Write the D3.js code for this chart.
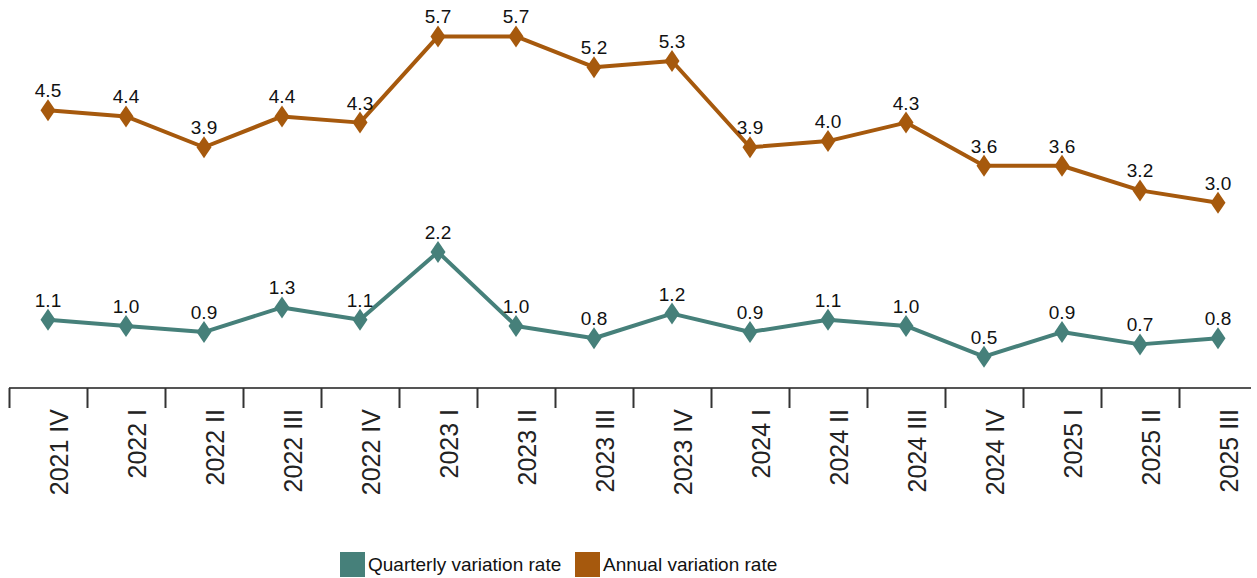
<!DOCTYPE html>
<html><head><meta charset="utf-8">
<script src="https://cdn.jsdelivr.net/npm/d3@7"></script>
<style>body{margin:0;background:#fff}svg{display:block}text{font-family:Arial,"Liberation Sans",sans-serif}</style>
</head><body>
<svg id="c" width="1257" height="578"></svg>
<script>
const categories = ["2021 IV","2022 I","2022 II","2022 III","2022 IV","2023 I","2023 II","2023 III","2023 IV","2024 I","2024 II","2024 III","2024 IV","2025 I","2025 II","2025 III"];
const quarterly = [1.1,1.0,0.9,1.3,1.1,2.2,1.0,0.8,1.2,0.9,1.1,1.0,0.5,0.9,0.7,0.8];
const annual = [4.5,4.4,3.9,4.4,4.3,5.7,5.7,5.2,5.3,3.9,4.0,4.3,3.6,3.6,3.2,3.0];
const seriesNames = ["Quarterly variation rate","Annual variation rate"];
const colors = ["#46807A","#A6590D"];

const svg = d3.select("#c");
const x = d3.scaleBand().domain(categories).range([9,1257]).padding(0);
const y = d3.scaleLinear().domain([0,6]).range([387.5,17.9]);

// axis
svg.append("line").attr("x1",9).attr("x2",1251).attr("y1",388).attr("y2",388)
  .attr("stroke","#555").attr("stroke-width",2);
svg.selectAll(".tick").data(categories).enter().append("line")
  .attr("x1",d=>x(d)+0.5).attr("x2",d=>x(d)+0.5).attr("y1",388).attr("y2",408)
  .attr("stroke","#333").attr("stroke-width",2);
svg.selectAll(".tl").data(categories).enter().append("text")
  .attr("transform",d=>`translate(${x(d)+x.bandwidth()/2+11},409) rotate(-90)`)
  .attr("text-anchor","end").attr("dominant-baseline","central")
  .attr("font-size",25).attr("fill","#222").text(d=>d);

const series = [quarterly, annual];
const line = d3.line().x((d,i)=>x(categories[i])+x.bandwidth()/2).y(d=>y(d));
series.forEach((vals,si)=>{
  const g = svg.append("g");
  g.append("path").datum(vals).attr("d",line).attr("fill","none")
    .attr("stroke",colors[si]).attr("stroke-width",4).attr("stroke-linejoin","round");
  g.selectAll("path.m").data(vals).enter().append("path").attr("class","m")
    .attr("d","M0,-11L7.5,0L0,11L-7.5,0Z")
    .attr("transform",(d,i)=>`translate(${x(categories[i])+x.bandwidth()/2},${y(d)})`)
    .attr("fill",colors[si]);
  g.selectAll("text").data(vals).enter().append("text")
    .attr("x",(d,i)=>x(categories[i])+x.bandwidth()/2)
    .attr("y",d=>y(d)-13)
    .attr("text-anchor","middle").attr("font-size",19).attr("fill","#111")
    .text(d=>d.toFixed(1));
});

// legend
const lg = [{x:340,t:seriesNames[0],c:colors[0]},{x:575,t:seriesNames[1],c:colors[1]}];
lg.forEach(l=>{
  svg.append("rect").attr("x",l.x).attr("y",552).attr("width",25).attr("height",25).attr("fill",l.c);
  svg.append("text").attr("x",l.x+28).attr("y",571).attr("font-size",19).attr("fill","#111").text(l.t);
});
</script>
</body></html>
